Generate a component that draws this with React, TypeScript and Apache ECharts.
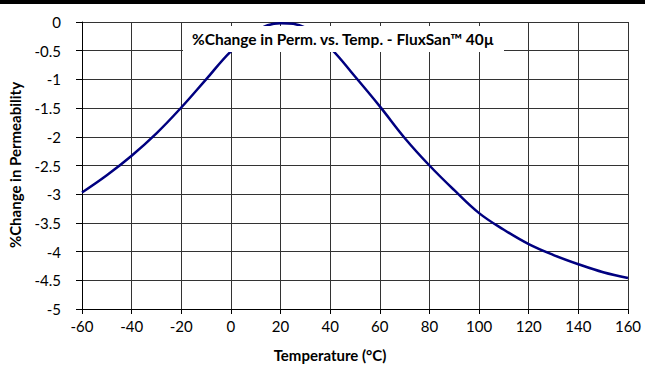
import React, { useEffect, useRef } from "react";
import * as echarts from "echarts";

const temperatures = [-60, -50, -40, -30, -20, -10, 0, 10, 20, 30, 40, 50, 60, 70, 80, 90, 100, 110, 120, 130, 140, 150, 160];
const permChange = [-2.97, -2.67, -2.33, -1.94, -1.49, -1.0, -0.51, -0.16, -0.02, -0.1, -0.45, -0.95, -1.47, -2.02, -2.5, -2.93, -3.33, -3.62, -3.87, -4.06, -4.22, -4.36, -4.46];

const chartTitle = "%Change in Perm. vs. Temp. - FluxSan\u2122 40\u00b5";
const xTitle = "Temperature (\u00b0C)";
const yTitle = "%Change in Permeability";

const FONT = "Lato, 'Open Sans', sans-serif";

export default function App() {
  const ref = useRef<HTMLDivElement>(null);
  useEffect(() => {
    if (!ref.current) return;
    const chart = echarts.init(ref.current, null, { renderer: "svg" });
    chart.setOption({
      animation: false,
      backgroundColor: "#ffffff",
      textStyle: { fontFamily: FONT },
      grid: { left: 82, top: 22, width: 546, height: 287, containLabel: false },
      xAxis: {
        type: "value",
        min: -60,
        max: 160,
        interval: 20,
        axisLine: { show: true, onZero: false, lineStyle: { color: "#000", width: 1 } },
        axisTick: { show: true, inside: false, length: 5, lineStyle: { color: "#000" } },
        axisLabel: { color: "#000", fontSize: 15, margin: 9, fontFamily: FONT },
        splitLine: { show: true, lineStyle: { color: "#333", width: 1 } },
      },
      yAxis: {
        type: "value",
        min: -5,
        max: 0,
        interval: 0.5,
        axisLine: { show: true, onZero: false, lineStyle: { color: "#000", width: 1 } },
        axisTick: { show: true, inside: false, length: 6, lineStyle: { color: "#000" } },
        axisLabel: { color: "#000", fontSize: 15, margin: 21, fontFamily: FONT },
        splitLine: { show: true, lineStyle: { color: "#333", width: 1 } },
      },
      series: [
        {
          type: "line",
          data: temperatures.map((t, i) => [t, permChange[i]]),
          smooth: 0.4,
          showSymbol: false,
          symbol: "none",
          lineStyle: { color: "#000080", width: 2.5 },
          z: 2,
        },
      ],
      graphic: [
        {
          type: "rect",
          z: 100,
          shape: { x: 0, y: 0, width: 645, height: 4 },
          style: { fill: "#000" },
        },
        {
          type: "rect",
          z: 100,
          shape: { x: 183, y: 26, width: 321, height: 26 },
          style: { fill: "#fff" },
        },
        {
          type: "text",
          z: 101,
          x: 343,
          y: 39,
          style: {
            text: chartTitle,
            fill: "#000",
            font: `bold 15.5px ${FONT}`,
            textAlign: "center",
            textVerticalAlign: "middle",
          },
        },
        {
          type: "text",
          z: 101,
          x: 330,
          y: 355,
          style: {
            text: xTitle,
            fill: "#000",
            font: `bold 15px ${FONT}`,
            textAlign: "center",
            textVerticalAlign: "middle",
          },
        },
        {
          type: "text",
          z: 101,
          x: 15,
          y: 165,
          rotation: Math.PI / 2,
          style: {
            text: yTitle,
            fill: "#000",
            font: `bold 15px ${FONT}`,
            textAlign: "center",
            textVerticalAlign: "middle",
          },
        },
      ],
    });
    return () => chart.dispose();
  }, []);
  return (
    <div
      ref={ref}
      style={{ position: "fixed", left: 0, top: 0, width: 645, height: 365, background: "#fff" }}
    />
  );
}
